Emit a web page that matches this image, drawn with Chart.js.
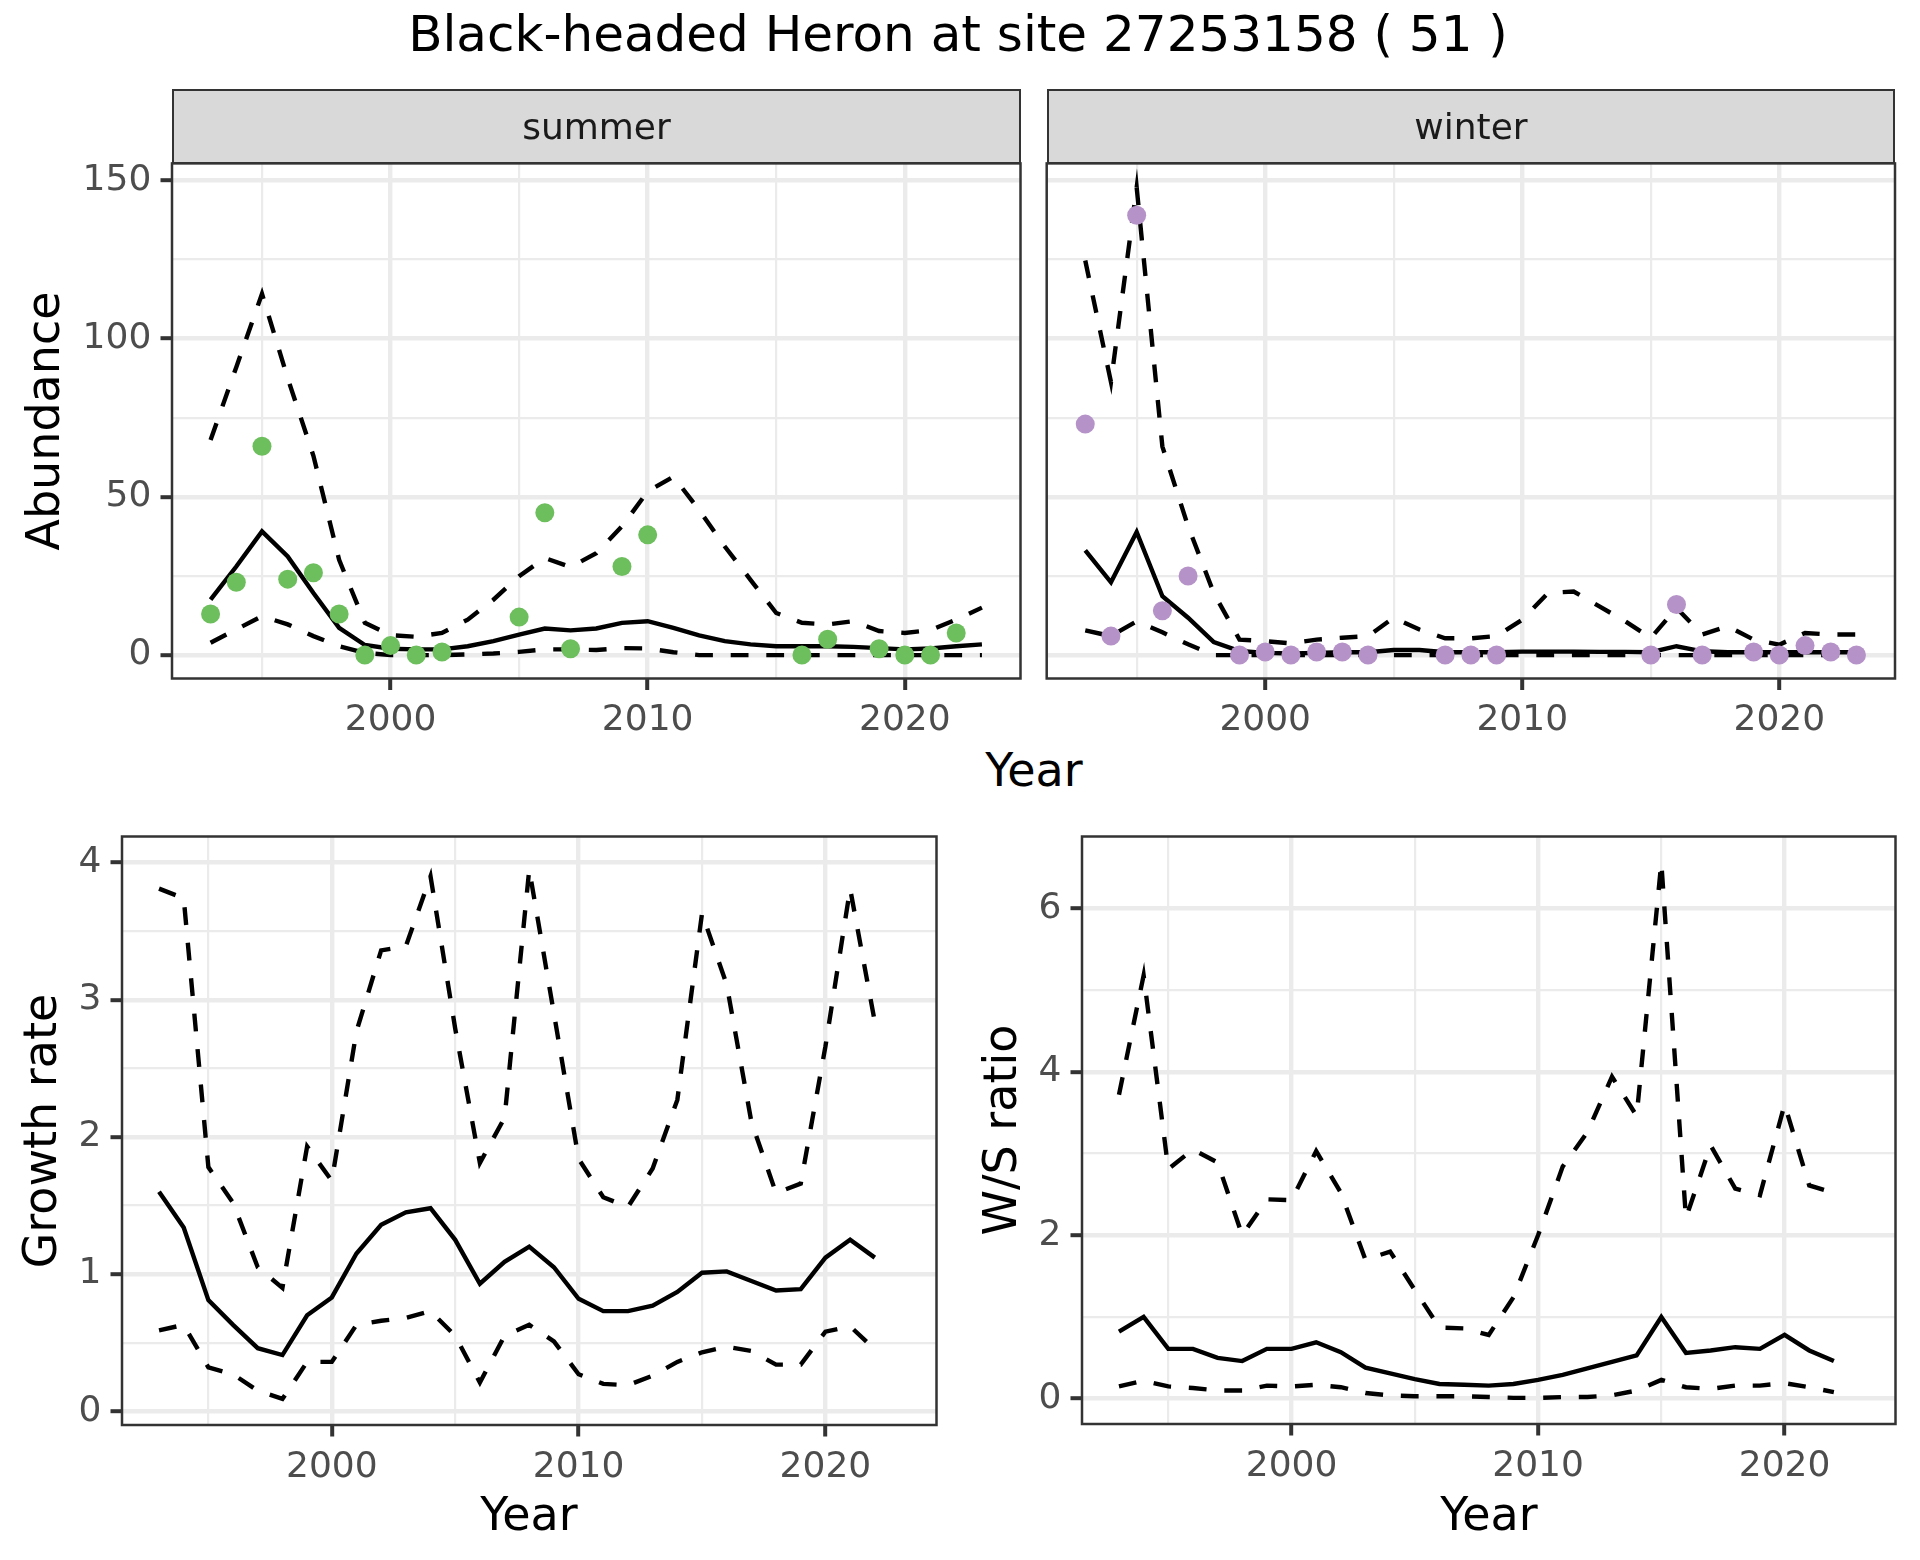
<!DOCTYPE html>
<html>
<head>
<meta charset="utf-8">
<title>Black-headed Heron at site 27253158</title>
<script src="https://cdn.jsdelivr.net/npm/chart.js@4.4.1/dist/chart.umd.min.js"></script>
<style>
  body { margin: 0; background: #ffffff; }
  #page { position: relative; width: 1920px; height: 1560px; overflow: hidden; background: #ffffff; font-family: "DejaVu Sans", sans-serif; }
  canvas { position: absolute; }
  .txt { position: absolute; white-space: nowrap; text-align: center; }
  .strip { position: absolute; box-sizing: border-box; background: #d9d9d9; border: 2.5px solid #333333; }
</style>
</head>
<body>
<div id="page">
  <canvas id="summer" width="1030" height="590" style="left:0px;top:150px"></canvas>
  <canvas id="winter" width="890" height="590" style="left:1030px;top:150px"></canvas>
  <canvas id="growth" width="960" height="740" style="left:0px;top:820px"></canvas>
  <canvas id="ratio" width="960" height="740" style="left:960px;top:820px"></canvas>
  <div class="strip" style="left:172px;top:89px;width:849px;height:75px"></div>
  <div class="strip" style="left:1046.7px;top:89px;width:848.3px;height:75px"></div>
</div>
<script>
// years for the fitted lines
const years = [1993, 1994, 1995, 1996, 1997, 1998, 1999, 2000, 2001, 2002, 2003, 2004, 2005, 2006, 2007, 2008,
  2009, 2010, 2011, 2012, 2013, 2014, 2015, 2016, 2017, 2018, 2019, 2020, 2021, 2022, 2023];
const rateYears = [1993, 1994, 1995, 1996, 1997, 1998, 1999, 2000, 2001, 2002, 2003, 2004, 2005, 2006, 2007, 2008,
  2009, 2010, 2011, 2012, 2013, 2014, 2015, 2016, 2017, 2018, 2019, 2020, 2021, 2022];

// summer counts and model
const summerCountYears = [1993, 1994, 1995, 1996, 1997, 1998, 1999, 2000, 2001, 2002, 2005, 2006, 2007, 2009, 2010,
  2016, 2017, 2019, 2020, 2021, 2022];
const summerCounts = [13, 23, 66, 24, 26, 13, 0, 3, 0, 1, 12, 45, 2, 28, 38, 0, 5, 2, 0, 0, 7];
const summerFit = [17.5, 28, 39.1, 31.2, 19.6, 8.6, 3.2, 2.0, 1.8, 1.8, 2.8, 4.4, 6.5, 8.4, 7.8, 8.4,
  10.2, 10.7, 8.6, 6.2, 4.4, 3.4, 2.8, 2.8, 2.8, 2.6, 2.2, 1.8, 2.1, 2.8, 3.4];
const summerLower = [3.9, 8.1, 12.3, 9.7, 6.0, 2.8, 0.7, 0, 0, 0, 0.2, 0.5, 1.0, 1.8, 1.8, 1.6,
  2.2, 2.1, 0.9, 0, 0, 0, 0, 0, 0, 0, 0, 0, 0, 0, 0];
const summerUpper = [68.0, 91, 114.2, 87.5, 63, 30.1, 10.2, 6.3, 5.8, 7.0, 11.2, 17.5, 24.9, 30.7, 27.8, 32.2,
  40.7, 51.7, 56.4, 45.9, 34.3, 23.8, 13.3, 10.2, 9.7, 10.7, 7.6, 7.0, 7.9, 11.2, 15];

// winter counts and model
const winterCountYears = [1993, 1994, 1995, 1996, 1997, 1999, 2000, 2001, 2002, 2003, 2004, 2007, 2008, 2009,
  2015, 2016, 2017, 2019, 2020, 2021, 2022, 2023];
const winterCounts = [73, 6, 139, 14, 25, 0, 1, 0, 1, 1, 0, 0, 0, 0, 0, 16, 0, 1, 0, 3, 1, 0];
const winterFit = [33.1, 23.0, 38.9, 18.6, 11.8, 4.1, 1.3, 0.7, 0.5, 0.7, 0.9, 0.9, 1.6, 1.6, 0.9, 0.9,
  0.9, 1.1, 1.1, 1.1, 1.0, 1.0, 0.9, 2.8, 1.2, 0.9, 0.9, 0.9, 0.9, 0.9, 0.9];
const winterLower = [7.8, 6.0, 10.7, 7.2, 3.4, 0, 0, 0, 0, 0, 0, 0, 0, 0, 0, 0,
  0, 0, 0, 0, 0, 0, 0, 0, 0, 0, 0, 0, 0, 0, 0];
const winterUpper = [124.7, 86.3, 147.8, 65.9, 40.7, 19.6, 4.9, 4.4, 3.7, 4.9, 5.5, 6.0, 11.8, 8.1, 5.3, 5.3,
  6.0, 11.2, 19.6, 20.1, 15.4, 10.7, 5.4, 14.9, 6.5, 9.1, 4.9, 3.3, 7.0, 6.5, 6.5];

// growth rate
const growthFit = [1.60, 1.34, 0.81, 0.63, 0.46, 0.41, 0.70, 0.83, 1.15, 1.36, 1.45, 1.48, 1.25, 0.93, 1.09,
  1.20, 1.05, 0.82, 0.73, 0.73, 0.77, 0.87, 1.01, 1.02, 0.95, 0.88, 0.89, 1.12, 1.25, 1.12];
const growthLower = [0.59, 0.63, 0.32, 0.27, 0.15, 0.09, 0.36, 0.36, 0.63, 0.66, 0.68, 0.73, 0.55, 0.21, 0.55,
  0.63, 0.51, 0.27, 0.20, 0.19, 0.26, 0.36, 0.43, 0.47, 0.44, 0.34, 0.34, 0.58, 0.62, 0.45];
const growthUpper = [3.81, 3.74, 1.78, 1.52, 1.05, 0.90, 1.93, 1.68, 2.77, 3.36, 3.39, 3.90, 2.79, 1.81, 2.14,
  3.95, 2.90, 1.84, 1.56, 1.49, 1.77, 2.27, 3.63, 3.11, 2.11, 1.59, 1.66, 2.66, 3.81, 2.84];

// winter / summer ratio
const ratioFit = [0.82, 1.00, 0.61, 0.61, 0.50, 0.46, 0.61, 0.61, 0.69, 0.57, 0.38, 0.31, 0.24, 0.18, 0.17,
  0.16, 0.18, 0.23, 0.29, 0.37, 0.45, 0.53, 1.00, 0.56, 0.59, 0.63, 0.61, 0.78, 0.59, 0.46];
const ratioLower = [0.15, 0.22, 0.15, 0.13, 0.10, 0.10, 0.16, 0.15, 0.17, 0.14, 0.07, 0.04, 0.03, 0.03, 0.03,
  0.02, 0.01, 0.01, 0.02, 0.02, 0.04, 0.10, 0.23, 0.14, 0.12, 0.16, 0.16, 0.19, 0.14, 0.08];
const ratioUpper = [3.72, 5.18, 2.81, 3.05, 2.89, 2.00, 2.44, 2.43, 3.03, 2.52, 1.70, 1.80, 1.33, 0.87, 0.86,
  0.78, 1.24, 2.00, 2.84, 3.26, 3.94, 3.46, 6.56, 2.21, 3.10, 2.57, 2.49, 3.60, 2.61, 2.52];

// axis breaks
const xTicks = [1995, 2000, 2005, 2010, 2015, 2020];
const xMajor = [2000, 2010, 2020];
const abundTicks = [0, 25, 50, 75, 100, 125, 150];
const abundMajor = [0, 50, 100, 150];
const growthTicks = [0, 0.5, 1, 1.5, 2, 2.5, 3, 3.5, 4];
const growthMajor = [0, 1, 2, 3, 4];
const ratioTicks = [0, 1, 2, 3, 4, 5, 6];
const ratioMajor = [0, 2, 4, 6];

Chart.defaults.font.family = '"DejaVu Sans", sans-serif';

const panelBorder = {
  id: 'panelBorder',
  afterDraw(chart) {
    const ctx = chart.ctx;
    const a = chart.chartArea;
    ctx.save();
    ctx.strokeStyle = '#333333';
    ctx.lineWidth = 2.5;
    ctx.strokeRect(a.left, a.top, a.right - a.left, a.bottom - a.top);
    ctx.restore();
  }
};

function xy(xs, ys) {
  return xs.map((x, i) => ({ x: x, y: ys[i] }));
}

function line(xs, ys, dashed) {
  return {
    data: xy(xs, ys),
    borderColor: '#000000',
    borderWidth: 4.4,
    borderDash: dashed ? [17.8, 17.8] : [],
    borderCapStyle: 'butt',
    pointRadius: 0,
    tension: 0,
    fill: false,
    order: 1
  };
}

function dots(xs, ys, colour) {
  return {
    data: xy(xs, ys),
    showLine: false,
    pointRadius: 9.5,
    pointBorderWidth: 0,
    pointBackgroundColor: colour,
    order: 0
  };
}

function axis(dir, ticks, major, min, max, size, showLabels) {
  const isMajor = c => c.tick && major.includes(c.tick.value);
  return {
    type: 'linear',
    position: dir === 'x' ? 'bottom' : 'left',
    min: min,
    max: max,
    afterBuildTicks: s => { s.ticks = ticks.map(v => ({ value: v })); },
    afterFit: s => {
      if (dir === 'x') s.height = size; else s.width = size;
      s.paddingTop = 0; s.paddingBottom = 0; s.paddingLeft = 0; s.paddingRight = 0;
    },
    border: { display: false },
    grid: {
      color: '#ebebeb',
      lineWidth: c => isMajor(c) ? 4.4 : 2.2,
      drawTicks: showLabels,
      tickLength: 11.5,
      tickWidth: 4,
      tickColor: c => isMajor(c) ? '#333333' : 'rgba(0,0,0,0)'
    },
    ticks: {
      display: showLabels,
      autoSkip: false,
      maxRotation: 0,
      padding: 9.2,
      color: '#4d4d4d',
      font: { size: 36 },
      callback: v => major.includes(v) ? String(v) : ''
    }
  };
}

function panel(id, datasets, p) {
  return new Chart(document.getElementById(id), {
    type: 'line',
    data: { datasets: datasets },
    options: {
      responsive: false,
      animation: false,
      devicePixelRatio: 1,
      events: [],
      layout: { padding: p.padding },
      plugins: { legend: { display: false }, tooltip: { enabled: false } },
      scales: {
        x: axis('x', xTicks, xMajor, 1991.5, 2024.5, p.xHeight, true),
        y: axis('y', p.yTicks, p.yMajor, p.yMin, p.yMax, p.yWidth, p.yLabels)
      }
    },
    plugins: [panelBorder]
  });
}

function addText(str, x, baseline, size, colour, rotated) {
  const d = document.createElement('div');
  d.className = 'txt';
  d.textContent = str;
  d.style.fontSize = size + 'px';
  d.style.lineHeight = size + 'px';
  d.style.height = size + 'px';
  d.style.width = '2000px';
  d.style.color = colour;
  if (rotated) {
    // x is the baseline, baseline is the vertical centre
    const cx = x - 0.346 * size;
    d.style.left = (cx - 1000) + 'px';
    d.style.top = (baseline - size / 2) + 'px';
    d.style.transform = 'rotate(-90deg)';
  } else {
    d.style.left = (x - 1000) + 'px';
    d.style.top = (baseline - 0.846 * size) + 'px';
  }
  document.getElementById('page').appendChild(d);
}

panel('summer', [
  dots(summerCountYears, summerCounts, '#6dbe5c'),
  line(years, summerUpper, true),
  line(years, summerLower, true),
  line(years, summerFit, false)
], { padding: { top: 13.4, right: 9, left: 0, bottom: 0 }, xHeight: 61.5, yWidth: 172,
     yTicks: abundTicks, yMajor: abundMajor, yMin: -7.4, yMax: 155.4, yLabels: true });

panel('winter', [
  dots(winterCountYears, winterCounts, '#b592c8'),
  line(years, winterUpper, true),
  line(years, winterLower, true),
  line(years, winterFit, false)
], { padding: { top: 13.4, right: 25, left: 0, bottom: 0 }, xHeight: 61.5, yWidth: 16.7,
     yTicks: abundTicks, yMajor: abundMajor, yMin: -7.4, yMax: 155.4, yLabels: false });

panel('growth', [
  line(rateYears, growthUpper, true),
  line(rateYears, growthLower, true),
  line(rateYears, growthFit, false)
], { padding: { top: 16.5, right: 23.5, left: 0, bottom: 0 }, xHeight: 135, yWidth: 122,
     yTicks: growthTicks, yMajor: growthMajor, yMin: -0.1, yMax: 4.19, yLabels: true });

panel('ratio', [
  line(rateYears, ratioUpper, true),
  line(rateYears, ratioLower, true),
  line(rateYears, ratioFit, false)
], { padding: { top: 16.5, right: 24.5, left: 0, bottom: 0 }, xHeight: 136, yWidth: 122,
     yTicks: ratioTicks, yMajor: ratioMajor, yMin: -0.31, yMax: 6.88, yLabels: true });

addText('Black-headed Heron at site 27253158 ( 51 )', 958, 51, 50, '#000000', false);
addText('summer', 596.5, 139.5, 36, '#1a1a1a', false);
addText('winter', 1471, 139.5, 36, '#1a1a1a', false);
addText('Year', 1034, 786, 46, '#000000', false);
addText('Year', 529, 1530, 46, '#000000', false);
addText('Year', 1489, 1530, 46, '#000000', false);
addText('Abundance', 59, 421, 46, '#000000', true);
addText('Growth rate', 56, 1130.7, 46, '#000000', true);
addText('W/S ratio', 1016, 1130, 46, '#000000', true);
</script>
</body>
</html>
